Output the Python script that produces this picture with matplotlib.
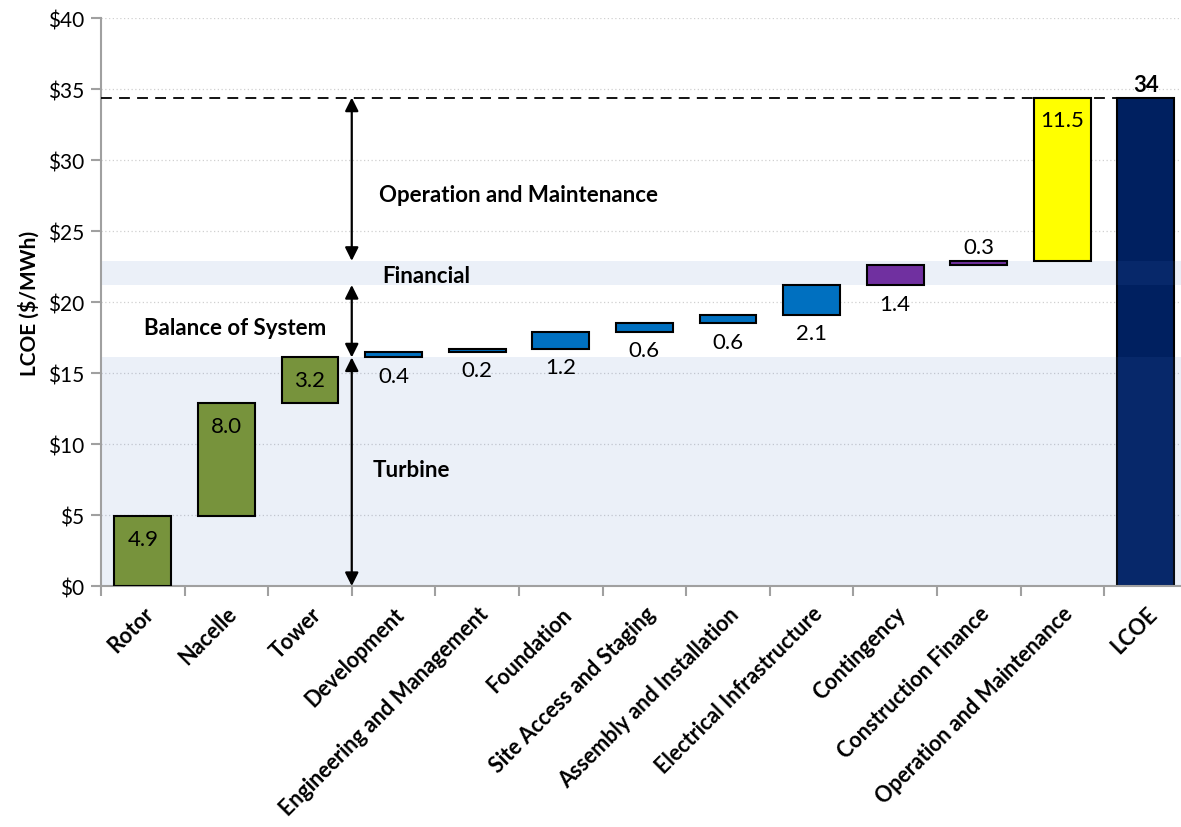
import matplotlib
matplotlib.use("Agg")
import matplotlib.pyplot as plt
import numpy as np

plt.rcParams["font.family"] = ["Lato", "DejaVu Sans"]

# --- data
categories = ["Rotor", "Nacelle", "Tower", "Development", "Engineering and Management",
              "Foundation", "Site Access and Staging", "Assembly and Installation",
              "Electrical Infrastructure", "Contingency", "Construction Finance",
              "Operation and Maintenance", "LCOE"]
values = [4.9, 8.0, 3.2, 0.4, 0.2, 1.2, 0.6, 0.6, 2.1, 1.4, 0.3, 11.5]
total_label = "34"
groups = ["turbine"] * 3 + ["bos"] * 6 + ["fin"] * 2 + ["om"]

COLORS = {"turbine": "#77933C", "bos": "#0070C0", "fin": "#7030A0",
          "om": "#FFFF00", "total": "#002060"}
# where each step's label sits: inside-top, below or above the bar
LABEL_POS = ["in", "in", "in", "below", "below", "below", "below", "below",
             "below", "below", "above", "in"]

vals = np.array(values)
tops = np.cumsum(vals)
bottoms = tops - vals
total = tops[-1]

fig = plt.figure(figsize=(11.81, 8.28), dpi=100)
ax = fig.add_axes([0.0855, 0.291, 0.9145, 0.686])

x = np.arange(len(categories))
w = 0.68
for i, (b, v, g) in enumerate(zip(bottoms, vals, groups)):
    ax.bar(i, v, bottom=b, width=w, color=COLORS[g], edgecolor="black",
           linewidth=1.5, zorder=3)
ax.bar(x[-1], total, width=w, color=COLORS["total"], edgecolor="black",
       linewidth=1.5, zorder=1)

# shaded bands (turbine, financial) drawn over the LCOE bar
turb_top = tops[2]
fin_lo, fin_hi = tops[8], tops[10]
ax.axhspan(0, turb_top, color="#4472C4", alpha=0.105, lw=0, zorder=2)
ax.axhspan(fin_lo, fin_hi, color="#4472C4", alpha=0.105, lw=0, zorder=2)

# value labels
for i, (b, t, v, p) in enumerate(zip(bottoms, tops, vals, LABEL_POS)):
    txt = f"{v:.1f}"
    if p == "in":
        ax.text(i, t - 0.9, txt, ha="center", va="top", fontsize=16, zorder=5)
    elif p == "below":
        ax.text(i, b - 0.6, txt, ha="center", va="top", fontsize=16, zorder=5)
    else:
        ax.text(i, t + 0.3, txt, ha="center", va="bottom", fontsize=16, zorder=5)
ax.text(x[-1], total + 0.2, total_label, ha="center", va="bottom", fontsize=16,
        fontweight="bold", zorder=5)

# dashed total line
ax.plot([-0.5, x[-1] - w / 2], [total, total], ls=(0, (6, 4)), color="black",
        lw=1.3, zorder=4)

# bracket arrows
ax_x = 2.5
arrow = dict(arrowstyle="<|-|>", color="black", lw=1.6, mutation_scale=20,
             shrinkA=0, shrinkB=0)
for lo, hi in [(0, turb_top), (turb_top, fin_lo), (fin_hi, total)]:
    ax.annotate("", xy=(ax_x, lo), xytext=(ax_x, hi), arrowprops=arrow, zorder=6)

ax.text(2.83, 27.6, "Operation and Maintenance", fontsize=16, fontweight="bold",
        va="center", zorder=6)
ax.text(2.87, 21.9, "Financial", fontsize=16, fontweight="bold", va="center", zorder=6)
ax.text(2.2, 18.2, "Balance of System", fontsize=16, fontweight="bold",
        va="center", ha="right", zorder=6)
ax.text(2.75, 8.2, "Turbine", fontsize=16, fontweight="bold", va="center", zorder=6)

# axes styling
ax.set_xlim(-0.5, 12.42)
ax.set_ylim(0, 40)
ax.set_yticks(np.arange(0, 41, 5))
ax.set_yticklabels([f"${v}" for v in range(0, 41, 5)], fontsize=15)
ax.yaxis.grid(True, ls=(0, (1, 2)), color="#D0D0D0", lw=0.9, zorder=0)
ax.set_axisbelow(True)

ax.set_xticks(x)
ax.set_xticklabels(categories, rotation=45, ha="right", rotation_mode="anchor",
                   fontsize=15.5, fontweight="bold")
ax.tick_params(axis="x", length=0, pad=12)
ax.set_xticks(np.arange(-0.5, 12.5, 1), minor=True)
ax.tick_params(axis="x", which="minor", length=7, color="#A0A0A0", width=1.5)
ax.tick_params(axis="y", length=7, color="#A0A0A0", width=1.5, pad=5)

for s in ["top", "right"]:
    ax.spines[s].set_visible(False)
for s in ["left", "bottom"]:
    ax.spines[s].set_color("#A0A0A0")
    ax.spines[s].set_linewidth(1.5)

ax.set_ylabel("LCOE ($/MWh)", fontsize=15, fontweight="bold", labelpad=6)

fig.savefig("out.png", dpi=100, facecolor="white")
